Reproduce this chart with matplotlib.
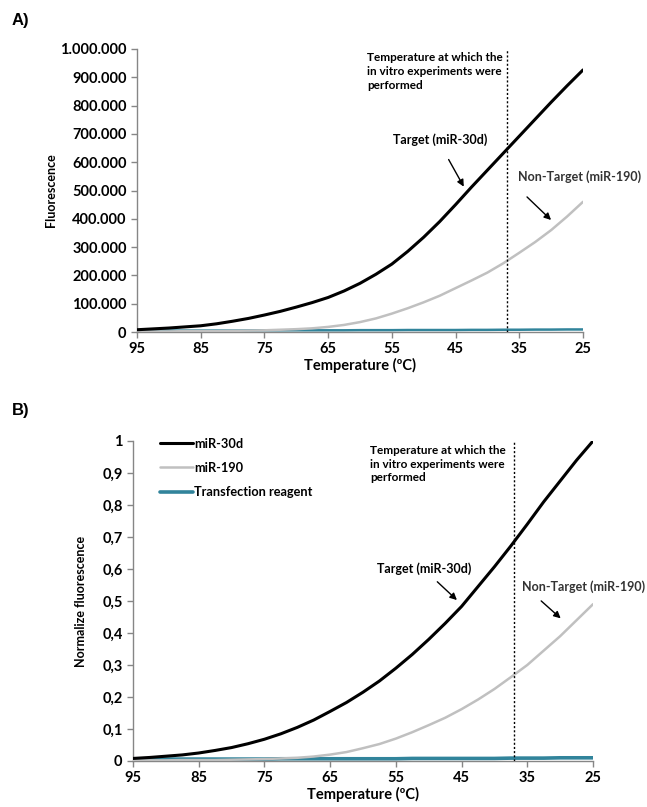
import matplotlib
matplotlib.use("Agg")
import matplotlib.pyplot as plt
from matplotlib.ticker import FuncFormatter, FixedLocator

plt.rcParams['font.family'] = ['Lato', 'DejaVu Sans']

# ---- data ----
temperature = [95, 92.5, 90, 87.5, 85, 82.5, 80, 77.5, 75, 72.5, 70, 67.5, 65, 62.5,
               60, 57.5, 55, 52.5, 50, 47.5, 45, 42.5, 40, 37.5, 35, 32.5, 30, 27.5, 25]

# Panel A: raw fluorescence
fluor_mir30d = [8000, 11000, 14000, 18000, 22000, 29000, 38000, 48000, 60000, 73000,
                88000, 104000, 122000, 145000, 172000, 204000, 240000, 285000, 335000,
                390000, 450000, 512000, 572000, 632000, 692000, 752000, 812000, 870000,
                926000]
fluor_mir190 = [2000, 2000, 2000, 3000, 3000, 3000, 4000, 5000, 6000, 8000,
                10000, 13000, 18000, 25000, 35000, 48000, 65000, 84000, 105000,
                128000, 155000, 182000, 210000, 243000, 280000, 318000, 360000, 408000,
                460000]
fluor_reagent = [5000, 5000, 5000, 5000, 5000, 5000, 5000, 5500, 6000, 6000,
                 6000, 6000, 6000, 6000, 6500, 6500, 6500, 7000, 7000,
                 7000, 7000, 7500, 7500, 8000, 8000, 8500, 8500, 9000,
                 9000]

# Panel B: normalized fluorescence
norm_mir30d = [0.008, 0.011, 0.015, 0.019, 0.025, 0.033, 0.042, 0.054, 0.068, 0.085,
               0.105, 0.128, 0.155, 0.183, 0.215, 0.250, 0.290, 0.333, 0.380,
               0.430, 0.483, 0.545, 0.607, 0.672, 0.740, 0.810, 0.875, 0.940,
               1.000]
norm_mir190 = [0.002, 0.002, 0.002, 0.003, 0.003, 0.003, 0.004, 0.005, 0.006, 0.008,
               0.010, 0.014, 0.020, 0.028, 0.040, 0.053, 0.070, 0.090, 0.112,
               0.135, 0.162, 0.192, 0.225, 0.262, 0.300, 0.345, 0.390, 0.440,
               0.490]
norm_reagent = [0.006, 0.006, 0.006, 0.006, 0.006, 0.006, 0.006, 0.006, 0.006, 0.007,
                0.007, 0.007, 0.007, 0.007, 0.007, 0.007, 0.007, 0.008, 0.008,
                0.008, 0.008, 0.008, 0.008, 0.009, 0.009, 0.009, 0.010, 0.010,
                0.010]

series_labels = ['miR-30d', 'miR-190', 'Transfection reagent']
x_ticks = [95, 85, 75, 65, 55, 45, 35, 25]
yticks_a = [0, 100000, 200000, 300000, 400000, 500000, 600000, 700000, 800000, 900000, 1000000]
yticks_b = [0, 0.1, 0.2, 0.3, 0.4, 0.5, 0.6, 0.7, 0.8, 0.9, 1.0]
experiment_temp = 37

C_BLACK = '#000000'
C_GRAY = '#c0c0c0'
C_BLUE = '#31849b'
C_SPINE = '#868686'

fig = plt.figure(figsize=(6.47, 8.07), dpi=100)

axA = fig.add_axes([137/647, 1-332/807, (583-137)/647, (332-49)/807])
axB = fig.add_axes([133/647, 1-761/807, (593-133)/647, (761-441)/807])


def style(ax, ysize):
    for s in ['top', 'right']:
        ax.spines[s].set_visible(False)
    for s in ['left', 'bottom']:
        ax.spines[s].set_color(C_SPINE)
        ax.spines[s].set_linewidth(1.0)
    ax.tick_params(axis='both', direction='out', length=4, width=1, color=C_SPINE)
    ax.tick_params(axis='y', labelsize=ysize)
    ax.tick_params(axis='x', labelsize=10.5)
    ax.set_xlim(95, 25)
    ax.xaxis.set_major_locator(FixedLocator(x_ticks))
    ax.set_xticklabels([str(t) for t in x_ticks], fontweight='bold', fontsize=10.5)


line_kw = dict(solid_joinstyle='round', solid_capstyle='round')

# ---- Panel A ----
axA.plot(temperature, fluor_reagent, color=C_BLUE, lw=1.8, zorder=2, **line_kw)
axA.plot(temperature, fluor_mir190, color=C_GRAY, lw=1.8, zorder=3, **line_kw)
axA.plot(temperature, fluor_mir30d, color=C_BLACK, lw=2.2, zorder=4, **line_kw)
axA.axvline(experiment_temp, color='black', ls=(0, (1.5, 1.5)), lw=1.0, zorder=5)
axA.set_ylim(0, 1000000)
axA.yaxis.set_major_locator(FixedLocator(yticks_a))
axA.yaxis.set_major_formatter(FuncFormatter(lambda v, p: f"{int(v):,}".replace(',', '.')))
style(axA, 10.5)
for lab in axA.get_yticklabels():
    lab.set_fontweight('bold')
axA.set_ylabel('Fluorescence', fontweight='bold', fontsize=9, labelpad=2)
axA.set_xlabel('Temperature (ºC)', fontweight='bold', fontsize=10.5, labelpad=1)

axA.text(58.9, 989000, 'Temperature at which the\nin vitro experiments were\nperformed',
         ha='left', va='top', fontsize=8.5, fontweight='bold', linespacing=1.3)
axA.annotate('', xy=(43.5, 505000), xytext=(46.3, 618000),
             arrowprops=dict(arrowstyle='-|>', color='black', lw=1.0, mutation_scale=10))
axA.text(47.4, 678000, 'Target (miR-30d)', ha='center', va='center', fontsize=9,
         fontweight='bold')
axA.annotate('', xy=(29.7, 389000), xytext=(34.1, 484000),
             arrowprops=dict(arrowstyle='-|>', color='black', lw=1.0, mutation_scale=10))
axA.text(25.5, 548000, 'Non-Target (miR-190)', ha='center', va='center', fontsize=9,
         fontweight='bold', color='#333333', clip_on=False)

# ---- Panel B ----
axB.plot(temperature, norm_reagent, color=C_BLUE, lw=2.6, zorder=2, label=series_labels[2], **line_kw)
axB.plot(temperature, norm_mir190, color=C_GRAY, lw=1.8, zorder=3, label=series_labels[1], **line_kw)
axB.plot(temperature, norm_mir30d, color=C_BLACK, lw=2.2, zorder=4, label=series_labels[0], **line_kw)
axB.axvline(experiment_temp, color='black', ls=(0, (1.5, 1.5)), lw=1.0, zorder=5)
axB.set_ylim(0, 1.0)
axB.yaxis.set_major_locator(FixedLocator(yticks_b))
axB.yaxis.set_major_formatter(FuncFormatter(
    lambda v, p: '0' if abs(v) < 1e-9 else ('1' if abs(v - 1) < 1e-9 else f"{v:.1f}".replace('.', ','))))
style(axB, 10.5)
for lab in axB.get_yticklabels():
    lab.set_fontweight('bold')
axB.set_ylabel('Normalize fluorescence', fontweight='bold', fontsize=9, labelpad=11)
axB.set_xlabel('Temperature (ºC)', fontweight='bold', fontsize=10.5, labelpad=1)

handles, labels = axB.get_legend_handles_labels()
order = [2, 1, 0]
leg = axB.legend([handles[i] for i in order], [labels[i] for i in order],
                 loc='upper left', bbox_to_anchor=(0.0587, 1.01), frameon=False,
                 prop={'weight': 'bold', 'size': 9.2}, handlelength=2.6,
                 handletextpad=0.05, labelspacing=0.95, borderpad=0, borderaxespad=0)

axB.text(58.9, 0.9875, 'Temperature at which the\nin vitro experiments were\nperformed',
         ha='left', va='top', fontsize=8.5, fontweight='bold', linespacing=1.3)
axB.annotate('', xy=(45.4, 0.497), xytext=(49.0, 0.566),
             arrowprops=dict(arrowstyle='-|>', color='black', lw=1.0, mutation_scale=10))
axB.text(50.7, 0.60, 'Target (miR-30d)', ha='center', va='center', fontsize=9,
         fontweight='bold')
axB.annotate('', xy=(29.6, 0.44), xytext=(33.2, 0.506),
             arrowprops=dict(arrowstyle='-|>', color='black', lw=1.0, mutation_scale=10))
axB.text(26.4, 0.544, 'Non-Target (miR-190)', ha='center', va='center', fontsize=9,
         fontweight='bold', color='#333333', clip_on=False)

# Panel letters
fig.text(12/647, 1-20/807, 'A)', fontsize=12, fontweight='bold',
         family=['Liberation Sans', 'DejaVu Sans'], va='center', ha='left')
fig.text(12/647, 1-410/807, 'B)', fontsize=12, fontweight='bold',
         family=['Liberation Sans', 'DejaVu Sans'], va='center', ha='left')

fig.savefig('out.png', dpi=100)
